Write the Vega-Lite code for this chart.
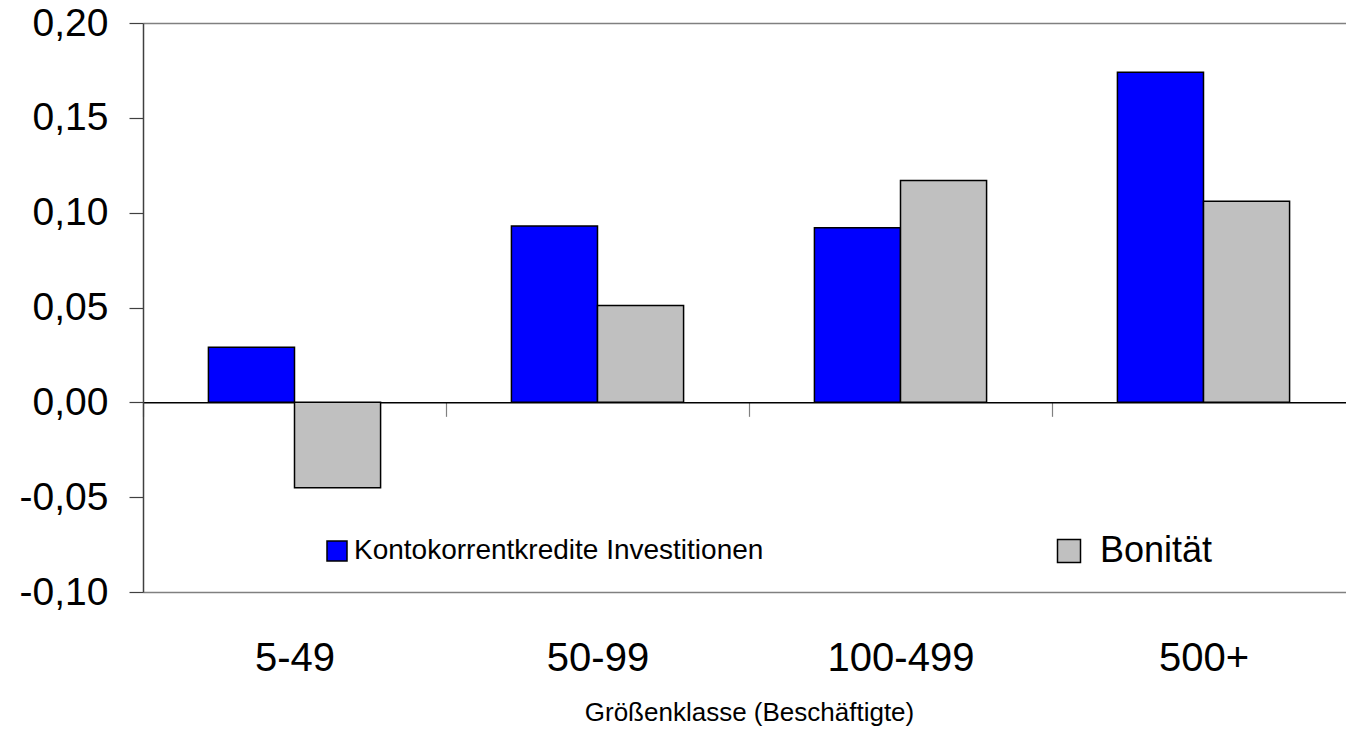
{
  "$schema": "https://vega.github.io/schema/vega-lite/v6.json",
  "width": 1203,
  "height": 569,
  "autosize": {"type": "none"},
  "padding": {"left": 143, "top": 23, "right": 0, "bottom": 138},
  "background": "white",
  "config": {"view": {"stroke": null}, "font": "Liberation Sans"},
  "data": {
    "values": [
      {"Klasse": "5-49", "Reihe": "Kontokorrentkredite Investitionen", "Wert": 0.029},
      {"Klasse": "5-49", "Reihe": "Bonität", "Wert": -0.045},
      {"Klasse": "50-99", "Reihe": "Kontokorrentkredite Investitionen", "Wert": 0.093},
      {"Klasse": "50-99", "Reihe": "Bonität", "Wert": 0.051},
      {"Klasse": "100-499", "Reihe": "Kontokorrentkredite Investitionen", "Wert": 0.092},
      {"Klasse": "100-499", "Reihe": "Bonität", "Wert": 0.117},
      {"Klasse": "500+", "Reihe": "Kontokorrentkredite Investitionen", "Wert": 0.174},
      {"Klasse": "500+", "Reihe": "Bonität", "Wert": 0.106}
    ]
  },
  "encoding": {
    "x": {
      "field": "Klasse",
      "type": "nominal",
      "sort": ["5-49", "50-99", "100-499", "500+"],
      "scale": {"paddingInner": 0, "paddingOuter": 0, "range": [0, 1212]},
      "axis": {
        "title": "Größenklasse (Beschäftigte)",
        "orient": "bottom",
        "offset": -189.667,
        "domainColor": "black",
        "domainWidth": 1.5,
        "tickBand": "extent",
        "tickSize": 14,
        "tickColor": "#808080",
        "tickWidth": 1.2,
        "labelAngle": 0,
        "labelFontSize": 40,
        "labelColor": "black",
        "labelPadding": 222,
        "labelFont": "Liberation Sans",
        "titleFont": "Liberation Sans",
        "titleFontSize": 26,
        "titleFontWeight": "normal",
        "titleColor": "black",
        "titleBaseline": "top",
        "titleY": 297
      }
    },
    "xOffset": {
      "field": "Reihe",
      "type": "nominal",
      "scale": {"domain": ["Kontokorrentkredite Investitionen", "Bonität"], "paddingInner": 0, "paddingOuter": 0.76}
    },
    "y": {
      "field": "Wert",
      "type": "quantitative",
      "scale": {"domain": [-0.1, 0.2], "nice": false, "zero": false},
      "axis": {
        "title": null,
        "values": [-0.1, -0.05, 0, 0.05, 0.1, 0.15, 0.2],
        "labelExpr": "(datum.value < 0 ? '-' : '') + replace(format(abs(datum.value), '.2f'), '.', ',')",
        "grid": true,
        "gridColor": "#808080",
        "gridWidth": 1.5,
        "gridOpacity": {"condition": {"test": "datum.value > 0.19 || datum.value < -0.09", "value": 1}, "value": 0},
        "domainColor": "#404040",
        "domainWidth": 1.5,
        "tickSize": 14,
        "tickColor": "#404040",
        "tickWidth": 1.2,
        "labelFontSize": 39,
        "labelFont": "Liberation Sans",
        "labelPadding": 21,
        "labelColor": "black"
      }
    }
  },
  "layer": [
    {
      "transform": [{"filter": "datum.Reihe === 'Kontokorrentkredite Investitionen'"}],
      "mark": {"type": "bar", "stroke": "black", "strokeWidth": 1.5},
      "encoding": {
        "fill": {
          "field": "Reihe",
          "type": "nominal",
          "scale": {"domain": ["Kontokorrentkredite Investitionen"], "range": ["#0000ff"]},
          "legend": {
            "orient": "none",
            "legendX": 180,
            "legendY": 514,
            "title": null,
            "padding": 0,
            "symbolType": "square",
            "symbolSize": 400,
            "symbolStrokeColor": "black",
            "symbolStrokeWidth": 1.5,
            "labelFont": "Liberation Sans",
            "labelFontSize": 28,
            "labelColor": "black",
            "labelOffset": 3,
            "labelLimit": 1000
          }
        }
      }
    },
    {
      "transform": [{"filter": "datum.Reihe === 'Bonität'"}],
      "mark": {"type": "bar", "stroke": "black", "strokeWidth": 1.5},
      "encoding": {
        "fill": {
          "field": "Reihe",
          "type": "nominal",
          "scale": {"domain": ["Bonität"], "range": ["#c0c0c0"]},
          "legend": {
            "orient": "none",
            "legendX": 908,
            "legendY": 510,
            "title": null,
            "padding": 0,
            "symbolType": "square",
            "symbolSize": 529,
            "symbolStrokeColor": "black",
            "symbolStrokeWidth": 1.5,
            "labelFont": "Liberation Sans",
            "labelFontSize": 36,
            "labelColor": "black",
            "labelOffset": 13,
            "labelLimit": 1000
          }
        }
      }
    }
  ],
  "resolve": {"scale": {"fill": "independent"}, "legend": {"fill": "independent"}}
}
